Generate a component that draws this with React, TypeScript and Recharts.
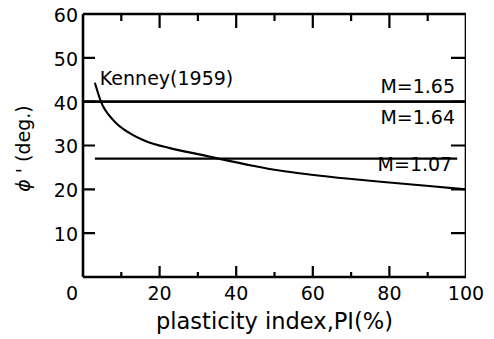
import React from "react";
import { LineChart, Line, XAxis, YAxis, Label } from "recharts";

// values
const piTicks = [0, 10, 20, 30, 40, 50, 60, 70, 80, 90, 100];
const phiTicks = [0, 10, 20, 30, 40, 50, 60];

const kenneyPI = [3.1, 4.6, 7.9, 12.2, 16.6, 22.7, 31.3, 35.7, 44.3, 51.3, 59.1, 69.5, 80.7, 90.4, 99.9];
const kenneyPhi = [44.3, 40.2, 35.8, 32.8, 30.9, 29.4, 27.8, 26.95, 25.4, 24.3, 23.4, 22.4, 21.5, 20.75, 20.0];

const m165PI = [0, 100];
const m165Phi = [40, 40];
const m164PI = [0, 100];
const m164Phi = [40, 40];
const m107PI = [3.1, 97.7];
const m107Phi = [27, 27];

const FONT = "DejaVu Sans";
const W = 494;
const H = 339;
const MARGIN = { top: 14, right: 28, bottom: 0, left: 0 };
const X_AXIS_H = 62;
const Y_AXIS_W = 83;
const PLOT_W = W - MARGIN.left - MARGIN.right - Y_AXIS_W;
const PLOT_H = H - MARGIN.top - MARGIN.bottom - X_AXIS_H;
const X_MAX = 100;
const Y_MAX = 60;
// pixel lengths turned into data units
const dy = (px: number) => (px / PLOT_H) * Y_MAX;
const dx = (px: number) => (px / PLOT_W) * X_MAX;

type Row = { pi: number | null; phi: number | null };
const toRows = (xs: number[], ys: number[]): Row[] => xs.map((pi, i) => ({ pi, phi: ys[i] }));

const kenney = toRows(kenneyPI, kenneyPhi);
const m165 = toRows(m165PI, m165Phi);
const m164 = toRows(m164PI, m164Phi);
const m107 = toRows(m107PI, m107Phi);

// frame (top + right side) and inward tick segments, separated by gaps
const GAP: Row = { pi: null, phi: null };
const innerPI = piTicks.filter((v) => v > 0 && v < X_MAX);
const innerPhi = phiTicks.filter((v) => v > 0 && v < Y_MAX);
const frame: Row[] = [
  { pi: 0, phi: Y_MAX },
  { pi: X_MAX, phi: Y_MAX },
  { pi: X_MAX, phi: 0 },
];
const xTickSegs: Row[] = innerPI.flatMap((v) => {
  const major = v % 20 === 0;
  return [
    { pi: v, phi: 0 },
    { pi: v, phi: dy(major ? 11 : 5) },
    GAP,
    { pi: v, phi: Y_MAX },
    { pi: v, phi: Y_MAX - dy(major ? 14 : 7) },
    GAP,
  ];
});
const yTickSegs: Row[] = innerPhi.flatMap((v) => [
  { pi: 0, phi: v },
  { pi: dx(12), phi: v },
  GAP,
  { pi: X_MAX, phi: v },
  { pi: X_MAX - dx(15), phi: v },
  GAP,
]);

function BottomTick({ x, y, payload }: any) {
  const v = payload.value;
  if (v % 20 !== 0) return <g />;
  return (
    <text x={v === 0 ? x - 11 : x} y={y + 23} textAnchor="middle" fontFamily={FONT} fontSize={19} fill="#000">
      {v}
    </text>
  );
}

function LeftTick({ x, y, payload }: any) {
  const v = payload.value;
  if (v === 0) return <g />;
  return (
    <text x={x - 5} y={y} dy="0.42em" textAnchor="end" fontFamily={FONT} fontSize={19} fill="#000">
      {v}
    </text>
  );
}

const endLabel = (text: string, ox: number, oy: number, count: number) => (p: any) =>
  p.index === count - 1 ? (
    <text x={p.x + ox} y={p.y + oy} textAnchor="end" fontFamily={FONT} fontSize={19} fill="#000">
      {text}
    </text>
  ) : (
    <g />
  );

const startLabel = (text: string, ox: number, oy: number) => (p: any) =>
  p.index === 0 ? (
    <text x={p.x + ox} y={p.y + oy} textAnchor="start" fontFamily={FONT} fontSize={19} fill="#000">
      {text}
    </text>
  ) : (
    <g />
  );

export default function App() {
  const axisLine = { stroke: "#000", strokeWidth: 2.6 };
  return (
    <div style={{ position: "absolute", left: 0, top: 0, width: W, height: H, background: "#fff" }}>
      <LineChart width={W} height={H} margin={MARGIN}>
        <XAxis
          type="number"
          dataKey="pi"
          domain={[0, X_MAX]}
          ticks={piTicks}
          height={X_AXIS_H}
          axisLine={axisLine}
          tickLine={false}
          tickSize={0}
          tickMargin={0}
          tick={<BottomTick />}
          interval={0}
          allowDataOverflow
        >
          <Label
            content={({ viewBox }: any) => (
              <text
                x={viewBox.x + viewBox.width / 2}
                y={viewBox.y + 52}
                textAnchor="middle"
                fontFamily={FONT}
                fontSize={22.5}
                fill="#000"
              >
                plasticity index,PI(%)
              </text>
            )}
          />
        </XAxis>
        <YAxis
          type="number"
          domain={[0, Y_MAX]}
          ticks={phiTicks}
          width={Y_AXIS_W}
          axisLine={axisLine}
          tickLine={false}
          tickSize={0}
          tickMargin={0}
          tick={<LeftTick />}
          interval={0}
        >
          <Label
            content={({ viewBox }: any) => {
              const cx = viewBox.x + 23;
              const cy = viewBox.y + viewBox.height / 2 + 3;
              return (
                <text
                  x={cx}
                  y={cy}
                  transform={`rotate(-90 ${cx} ${cy})`}
                  textAnchor="middle"
                  dominantBaseline="central"
                  fontFamily={FONT}
                  fontSize={19}
                  fill="#000"
                >
                  <tspan fontStyle="italic">ϕ</tspan> ' (deg.)
                </text>
              );
            }}
          />
        </YAxis>

        <Line data={frame} dataKey="phi" stroke="#000" strokeWidth={2.6} dot={false} activeDot={false} isAnimationActive={false} />
        <Line data={xTickSegs} dataKey="phi" stroke="#000" strokeWidth={2.2} dot={false} activeDot={false} isAnimationActive={false} />
        <Line data={yTickSegs} dataKey="phi" stroke="#000" strokeWidth={2.2} dot={false} activeDot={false} isAnimationActive={false} />

        <Line
          data={m165}
          dataKey="phi"
          stroke="#000"
          strokeWidth={2.4}
          dot={false}
          isAnimationActive={false}
          label={endLabel("M=1.65", -11, -8.7, m165.length)}
        />
        <Line
          data={m164}
          dataKey="phi"
          stroke="#000"
          strokeWidth={2.4}
          dot={false}
          isAnimationActive={false}
          label={endLabel("M=1.64", -11, 22.3, m164.length)}
        />
        <Line
          data={m107}
          dataKey="phi"
          stroke="#000"
          strokeWidth={2.1}
          dot={false}
          isAnimationActive={false}
          label={endLabel("M=1.07", -5, 12.7, m107.length)}
        />
        <Line
          data={kenney}
          dataKey="phi"
          type="monotone"
          stroke="#000"
          strokeWidth={2.1}
          dot={false}
          isAnimationActive={false}
          label={startLabel("Kenney(1959)", 5, 2.3)}
        />
      </LineChart>
    </div>
  );
}
